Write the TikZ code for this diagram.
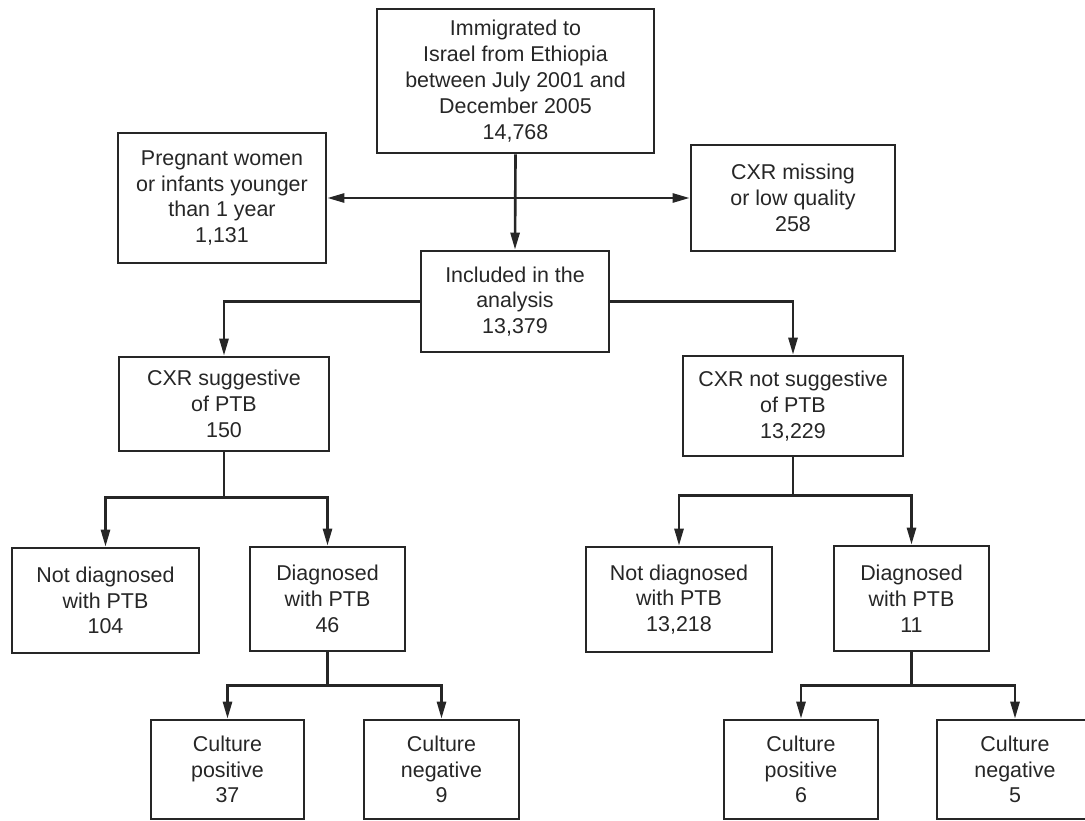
\documentclass[tikz,border=0pt]{standalone}
\usepackage{fontspec}
\setmainfont{Liberation Sans}
\usetikzlibrary{arrows.meta,positioning}

\begin{document}
\begin{tikzpicture}[
  x=0.02cm, y=-0.02cm,
  every node/.style={font=\fontsize{12.2}{14.7}\selectfont, text=black!85},
  box/.style={draw=black!85, line width=1.5pt, align=center, inner sep=0pt},
  boxsize/.style 2 args={minimum width=#1*0.02cm, minimum height=#2*0.02cm},
  plain/.style={draw=black!85, line width=1.5pt},
  link/.style={plain, -{Triangle[length=0.34cm,width=0.18cm]}}
]
\useasboundingbox (0,0) rectangle (1085,821);

% Screening of the immigrant cohort.
\node[box, boxsize={277}{144}] (immig) at (515.5,81)
  {Immigrated to\\Israel from Ethiopia\\between July 2001 and\\December 2005\\14,768};
\node[box, boxsize={208}{130}] (pregnant) at (222,198)
  {Pregnant women\\or infants younger\\than 1 year\\1,131};
\node[box, boxsize={204}{106}] (missing) at (793,198)
  {CXR missing\\or low quality\\258};
\node[box, boxsize={188}{101}] (included) at (515,301.5)
  {Included in the\\analysis\\13,379};

\coordinate (split) at (immig.south |- pregnant.east);
\draw[link] (immig.south) -- (included.north);
\draw[link] (split) -- (pregnant.east);
\draw[link] (split) -- (missing.west);

% CXR reading.
\node[box, boxsize={210}{94}] (sugg) at (224,404)
  {CXR suggestive\\of PTB\\150};
\node[box, boxsize={220}{100}] (notsugg) at (793,406)
  {CXR not suggestive\\of PTB\\13,229};
\draw[link] (included.west) -| (sugg.north);
\draw[link] (included.east) -| (notsugg.north);

% Diagnosis.
\node[box, boxsize={187}{105}] (notdiagA) at (105.5,600.5)
  {Not diagnosed\\with PTB\\104};
\node[box, boxsize={155}{104}] (diagA) at (327.5,599)
  {Diagnosed\\with PTB\\46};
\node[box, boxsize={186}{105}] (notdiagB) at (679,599.5)
  {Not diagnosed\\with PTB\\13,218};
\node[box, boxsize={155}{105}] (diagB) at (911.5,598.5)
  {Diagnosed\\with PTB\\11};

\draw[plain] (sugg.south) -- ++(0,45) coordinate (forkA);
\draw[link] (forkA) -| (notdiagA.north);
\draw[link] (forkA) -| (diagA.north);
\draw[plain] (notsugg.south) -- ++(0,38) coordinate (forkB);
\draw[link] (forkB) -| (notdiagB.north);
\draw[link] (forkB) -| (diagB.north);

% Culture results.
\node[box, boxsize={153}{99}] (cposA) at (227.5,769.5)
  {Culture\\positive\\37};
\node[box, boxsize={155}{99}] (cnegA) at (441.5,769.5)
  {Culture\\negative\\9};
\node[box, boxsize={154}{99}] (cposB) at (801,769.5)
  {Culture\\positive\\6};
\node[box, boxsize={156}{99}] (cnegB) at (1015,769.5)
  {Culture\\negative\\5};

\draw[plain] (diagA.south) -- ++(0,33) coordinate (forkC);
\draw[link] (forkC) -| (cposA.north);
\draw[link] (forkC) -| (cnegA.north);
\draw[plain] (diagB.south) -- ++(0,33) coordinate (forkD);
\draw[link] (forkD) -| (cposB.north);
\draw[link] (forkD) -| (cnegB.north);
\end{tikzpicture}
\end{document}
